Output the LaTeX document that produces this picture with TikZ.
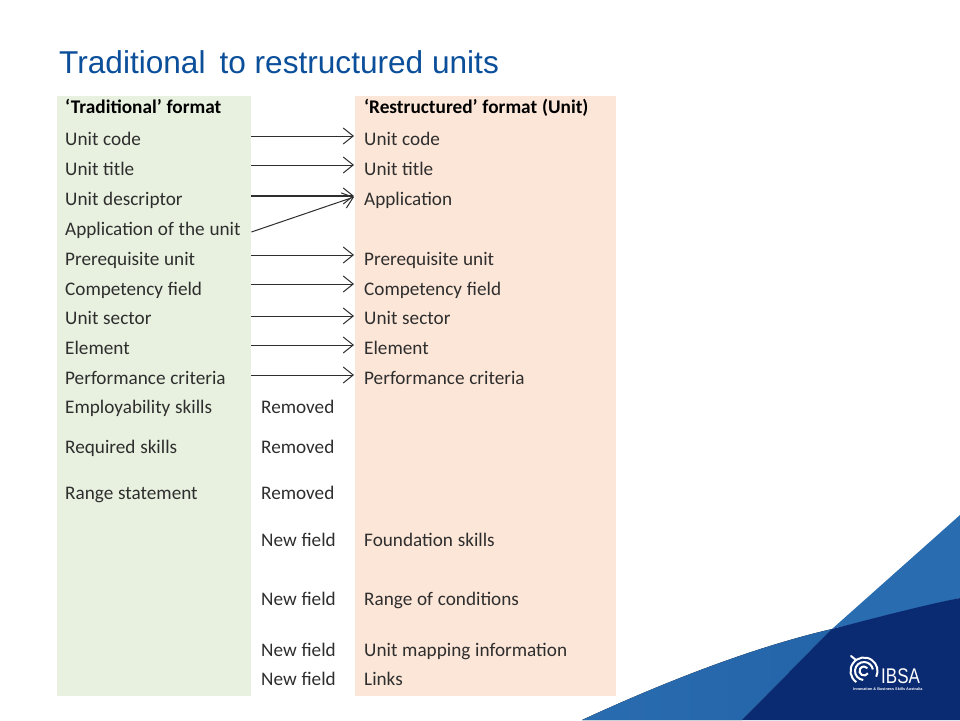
\documentclass[tikz,border=0pt]{standalone}
\usepackage{fontspec}
\setmainfont[WordSpace=1.1]{Carlito}
\newfontfamily\titlefont{Liberation Sans}
\usetikzlibrary{arrows.meta}
\definecolor{greenbg}{HTML}{E8F1DF}
\definecolor{orangebg}{HTML}{FCE6D8}
\definecolor{titleblue}{HTML}{0B4F9A}
\definecolor{midblue}{HTML}{2A6CB0}
\definecolor{midblueb}{HTML}{2464A9}
\definecolor{darkblue}{HTML}{0A2A72}
\definecolor{ink}{HTML}{2E2E2E}
\newcommand{\lcell}[1]{\makebox[178pt][l]{#1}}
\newcommand{\rcell}[1]{\makebox[240pt][l]{#1}}
\tikzset{
  x=1pt,y=-1pt,
  leftcell/.style={anchor=west,inner xsep=8pt,inner ysep=0pt,text height=12pt,text depth=4pt,font=\fontsize{19.2pt}{20pt}\selectfont,text=ink},
  rightcell/.style={anchor=west,inner xsep=10pt,inner ysep=0pt,text height=12pt,text depth=4pt,font=\fontsize{19.2pt}{20pt}\selectfont,text=ink},
  midcell/.style={anchor=west,inner sep=0pt,text height=12pt,text depth=4pt,font=\fontsize{19.2pt}{20pt}\selectfont,text=ink},
  headcell/.style={font=\fontsize{19.3pt}{20pt}\selectfont\bfseries,text=black},
  maparrow/.style={-{Straight Barb[length=10pt,width=16pt,line width=1pt]},line width=1pt,draw=ink},
  logoarc/.style={draw=white,line width=2pt},
}
\begin{document}
\begin{tikzpicture}
\useasboundingbox (0,0) rectangle (960,720);
\fill[white] (0,0) rectangle (960,720);
% swoosh
\fill[left color=midblue,right color=midblueb] (582,720) .. controls (660,684) and (750,648) .. (832,629) -- (742,720) -- cycle;
\fill[midblue] (832,629) -- (960,515) -- (960,598) -- cycle;
\fill[darkblue] (832,629) .. controls (875,618) and (920,606) .. (960,598) -- (960,720) -- (742,720) -- cycle;
% panels
\fill[greenbg] (57,96) rectangle (251,696);
\fill[orangebg] (355,96) rectangle (616,696);
% title
\node[anchor=base west,inner sep=0pt,text=titleblue,font=\titlefont\fontsize{31.6pt}{34pt}\selectfont] (title) at (59,73) {Traditional\, to restructured units};
% headers
\node[leftcell,headcell] (lh) at (57,109) {\lcell{‘Traditional’ format}};
\node[rightcell,headcell] (rh) at (354,109) {\rcell{‘Restructured’ format (Unit)}};
% left column
\node[leftcell] (l1) at (57,141) {\lcell{Unit code}};
\node[leftcell] (l2) at (57,171) {\lcell{Unit title}};
\node[leftcell] (l3) at (57,201) {\lcell{Unit descriptor}};
\node[leftcell] (l4) at (57,231) {\lcell{Application of the unit}};
\node[leftcell] (l5) at (57,261) {\lcell{Prerequisite unit}};
\node[leftcell] (l6) at (57,291) {\lcell{Competency field}};
\node[leftcell] (l7) at (57,320) {\lcell{Unit sector}};
\node[leftcell] (l8) at (57,350) {\lcell{Element}};
\node[leftcell] (l9) at (57,380) {\lcell{Performance criteria}};
\node[leftcell] (l10) at (57,409) {\lcell{Employability skills}};
\node[leftcell] (l11) at (57,449) {\lcell{Required skills}};
\node[leftcell] (l12) at (57,495) {\lcell{Range statement}};
% middle column
\node[midcell] (m10) at (261,409) {Removed};
\node[midcell] (m11) at (261,449) {Removed};
\node[midcell] (m12) at (261,495) {Removed};
\node[midcell] (m13) at (261,542) {New field};
\node[midcell] (m14) at (261,601) {New field};
\node[midcell] (m15) at (261,652) {New field};
\node[midcell] (m16) at (261,681) {New field};
% right column
\node[rightcell] (r1) at (354,141) {\rcell{Unit code}};
\node[rightcell] (r2) at (354,171) {\rcell{Unit title}};
\node[rightcell] (r3) at (354,201) {\rcell{Application}};
\node[rightcell] (r5) at (354,261) {\rcell{Prerequisite unit}};
\node[rightcell] (r6) at (354,291) {\rcell{Competency field}};
\node[rightcell] (r7) at (354,320) {\rcell{Unit sector}};
\node[rightcell] (r8) at (354,350) {\rcell{Element}};
\node[rightcell] (r9) at (354,380) {\rcell{Performance criteria}};
\node[rightcell] (r13) at (354,542) {\rcell{Foundation skills}};
\node[rightcell] (r14) at (354,601) {\rcell{Range of conditions}};
\node[rightcell] (r15) at (354,652) {\rcell{Unit mapping information}};
\node[rightcell] (r16) at (354,681) {\rcell{Links}};
% arrows
\draw[maparrow] ([yshift=5pt]l1.east) -- ([yshift=5pt]r1.west);
\draw[maparrow] ([yshift=6pt]l2.east) -- ([yshift=6pt]r2.west);
\draw[maparrow,line width=1.3pt] ([yshift=5pt]l3.east) -- ([yshift=5pt]r3.west);
\draw[maparrow] ([yshift=-1pt]l4.east) -- ([yshift=4pt]r3.west);
\draw[maparrow] ([yshift=6pt]l5.east) -- ([yshift=6pt]r5.west);
\draw[maparrow] ([yshift=7pt]l6.east) -- ([yshift=7pt]r6.west);
\draw[maparrow] ([yshift=4pt]l7.east) -- ([yshift=4pt]r7.west);
\draw[maparrow] ([yshift=5pt]l8.east) -- ([yshift=5pt]r8.west);
\draw[maparrow] ([yshift=5pt]l9.east) -- ([yshift=5pt]r9.west);
% logo
\draw[logoarc] (864,671) ++(125:13.5) arc[start angle=125,end angle=385,radius=13.5];
\draw[logoarc] (864,671) ++(95:9) arc[start angle=95,end angle=350,radius=9];
\draw[logoarc] (864,671) ++(30:4.5) arc[start angle=30,end angle=320,radius=4.5];
\draw[logoarc,line cap=round] (856,660) -- (851,656);
\node[anchor=base west,inner sep=0pt,text=white,yscale=1.25,font=\titlefont\fontsize{17pt}{18pt}\selectfont] (ibsa) at (881,683) {IBSA};
\node[anchor=base west,inner sep=0pt,text=white,font=\titlefont\bfseries\fontsize{3.8pt}{5pt}\selectfont] (tag) at (853,690) {Innovation \& Business Skills Australia};
\end{tikzpicture}
\end{document}
